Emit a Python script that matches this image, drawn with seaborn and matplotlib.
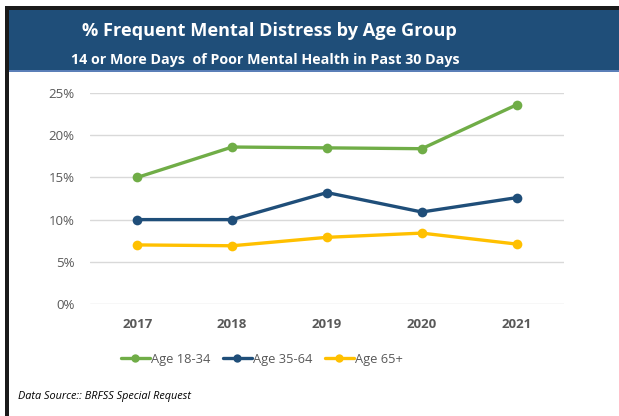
import matplotlib
matplotlib.use("Agg")
import matplotlib.pyplot as plt
from matplotlib.patches import Rectangle
from matplotlib.ticker import PercentFormatter
import seaborn as sns
import pandas as pd

# Survey years and % of adults reporting 14+ poor mental health days
years = ["2017", "2018", "2019", "2020", "2021"]
groups = ["Age 18-34", "Age 35-64", "Age 65+"]
age_18_34 = [15.0, 18.6, 18.5, 18.4, 23.6]
age_35_64 = [10.0, 10.0, 13.2, 10.9, 12.6]
age_65_plus = [7.0, 6.9, 7.9, 8.4, 7.1]
y_ticks = [0, 5, 10, 15, 20, 25]

title = "% Frequent Mental Distress by Age Group"
subtitle = "14 or More Days  of Poor Mental Health in Past 30 Days"
source = "Data Source:: BRFSS Special Request"

palette = {"Age 18-34": "#70AD47", "Age 35-64": "#1F4E79", "Age 65+": "#FFC000"}

df = pd.DataFrame({
    "Year": years * 3,
    "Group": [g for g in groups for _ in years],
    "Pct": age_18_34 + age_35_64 + age_65_plus,
})

sns.set_theme(style="white")
plt.rcParams["font.family"] = ["Open Sans", "DejaVu Sans"]

W, H = 619, 416
fig = plt.figure(figsize=(W / 100, H / 100), dpi=100)
fig.patch.set_facecolor("white")

# Frame edges and title banner
fig.patches.append(Rectangle((5 / W, 0), 4 / W, 1 - 6 / H, transform=fig.transFigure,
                             facecolor="#1a1a1a", edgecolor="none", zorder=0))
fig.patches.append(Rectangle((5 / W, 1 - 10 / H), 1, 4 / H, transform=fig.transFigure,
                             facecolor="#1a1a1a", edgecolor="none", zorder=0))
fig.patches.append(Rectangle((9 / W, 1 - 72 / H), 1, 62 / H, transform=fig.transFigure,
                             facecolor="#1F4E79", edgecolor="none", zorder=0))
fig.patches.append(Rectangle((9 / W, 1 - 72 / H), 1, 1.5 / H, transform=fig.transFigure,
                             facecolor="#5B7FB8", edgecolor="none", zorder=0))

fig.text(269 / W, 1 - 31 / H, title, ha="center", va="center", color="white",
         fontsize=13.1, fontweight="bold")
fig.text(265 / W, 1 - 60 / H, subtitle, ha="center", va="center", color="white",
         fontsize=10.3, fontweight="bold")

ax = fig.add_axes([90 / W, 1 - 304 / H, (564 - 90) / W, (304 - 93) / H])
sns.lineplot(data=df, x="Year", y="Pct", hue="Group", hue_order=groups,
             palette=palette, marker="o", markersize=7, markeredgewidth=0,
             linewidth=2.4, ax=ax, legend=True)

ax.set_xlim(-0.5, len(years) - 0.5)
ax.set_ylim(0, 25)
ax.set_yticks(y_ticks)
ax.yaxis.set_major_formatter(PercentFormatter(decimals=0))
ax.grid(axis="y", color="#D9D9D9", linewidth=1)
ax.grid(axis="x", visible=False)
for s in ax.spines.values():
    s.set_visible(False)
ax.set_xlabel("")
ax.set_ylabel("")
ax.tick_params(axis="y", length=0, pad=11, labelsize=9.5, labelcolor="#595959")
ax.tick_params(axis="x", length=0, pad=10, labelsize=9.5, labelcolor="#595959")
for lbl in ax.get_xticklabels():
    lbl.set_fontweight("bold")

handles, labels = ax.get_legend_handles_labels()
ax.get_legend().remove()
for h in handles:
    h.set_markersize(6)
fig.legend(handles, labels, loc="center", bbox_to_anchor=(262 / W, 1 - 359 / H),
           ncol=3, frameon=False, fontsize=9.3, labelcolor="#595959",
           handlelength=2.2, handletextpad=0.1, columnspacing=1.0)

fig.text(18 / W, 1 - 397 / H, source, ha="left", va="center", color="black",
         fontsize=7.8, fontstyle="italic")

fig.savefig("out.png", dpi=100)
